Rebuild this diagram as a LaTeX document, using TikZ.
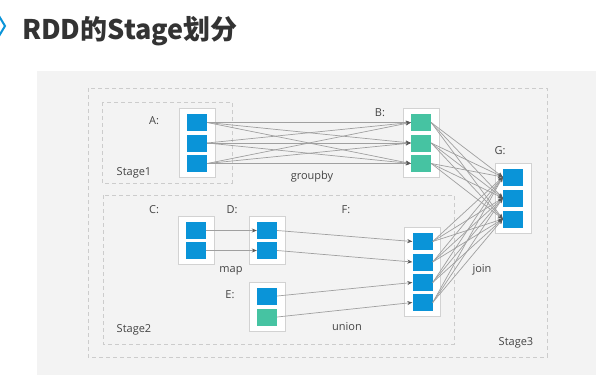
\documentclass[tikz,border=0pt]{standalone}
\usepackage{fontspec}
\setmainfont{Open Sans}
\newfontfamily\cjk{Noto Sans CJK SC}
\usetikzlibrary{arrows.meta, backgrounds, fit}
\definecolor{partblue}{HTML}{0A94D8}
\definecolor{partgreen}{HTML}{46C3A2}
\definecolor{panelgray}{HTML}{F3F3F3}
\definecolor{linegray}{HTML}{A0A0A0}
\definecolor{tipgray}{HTML}{5A5A5A}
\definecolor{textgray}{HTML}{444444}
\definecolor{titlegray}{HTML}{333333}

\begin{document}
\begin{tikzpicture}[x=1pt, y=-1pt,
    part/.style={fill=partblue, minimum width=20pt, minimum height=17pt, inner sep=0pt},
    partg/.style={part, fill=partgreen},
    rdd/.style={draw=gray!35, fill=white, line width=0.6pt, inner xsep=8pt, inner ysep=5.5pt},
    stagebox/.style={draw=gray!40, dash pattern=on 4pt off 3pt, line width=0.7pt},
    dep/.style={draw=linegray, line width=0.7pt, -{Stealth[length=5pt, width=4pt, color=tipgray]}},
    lbl/.style={text=textgray, font=\fontsize{11}{13}\selectfont, inner sep=0pt}]
    \useasboundingbox (0,0) rectangle (601,383);
    % title
    \draw[partblue, line width=2pt] (-1,16) -- (5,26) -- (-1,36);
    \node[anchor=west, inner sep=0pt, text=titlegray, font=\cjk\bfseries\fontsize{27}{31}\selectfont] (title) at (22,31) {RDD的Stage划分};
    % partitions
    \foreach \y [count=\i] in {122.5,143,163.5} {
        \node[part] (a\i) at (197,\y) {};
        \node[partg] (b\i) at (421,\y) {};
    }
    \foreach \y [count=\i] in {177,198,219}
        \node[part] (g\i) at (513,\y) {};
    \foreach \y [count=\i] in {230.5,250.5} {
        \node[part] (c\i) at (196,\y) {};
        \node[part] (d\i) at (267,\y) {};
    }
    \node[part] (e1) at (267,296) {};
    \node[partg] (e2) at (267,317) {};
    \foreach \y [count=\i] in {241.5,262,282.5,302.5}
        \node[part] (f\i) at (422.5,\y) {};
    % panel, stages and rdds
    \begin{scope}[on background layer]
        \fill[panelgray] (37,71) rectangle (596,375);
        \draw[stagebox] (88,88) rectangle (547,357);
        \draw[stagebox] (102,102) rectangle (232,183);
        \draw[stagebox] (103,195) rectangle (454,344);
        \node[rdd, fit=(a1)(a3)] (A) {};
        \node[rdd, fit=(b1)(b3)] (B) {};
        \node[rdd, fit=(g1)(g3)] (G) {};
        \node[rdd, fit=(c1)(c2)] (C) {};
        \node[rdd, fit=(d1)(d2)] (D) {};
        \node[rdd, fit=(e1)(e2)] (E) {};
        \node[rdd, fit=(f1)(f4)] (F) {};
    \end{scope}
    % dependencies
    \foreach \i in {1,2,3}
        \foreach \j in {1,2,3} {
            \draw[dep] (a\i.east) -- (b\j.west);
            \draw[dep] (b\i.east) -- (g\j.west);
        }
    \foreach \i in {1,...,4}
        \foreach \j in {1,2,3}
            \draw[dep] (f\i.east) -- (g\j.west);
    \draw[dep] (c1.east) -- (d1.west);
    \draw[dep] (c2.east) -- (d2.west);
    \draw[dep] (d1.east) -- (f1.west);
    \draw[dep] (d2.east) -- (f2.west);
    \draw[dep] (e1.east) -- (f3.west);
    \draw[dep] (e2.east) -- (f4.west);
    % labels
    \node[lbl] (la) at (154,121) {A:};
    \node[lbl] (lb) at (380,113) {B:};
    \node[lbl] (lg) at (500,151) {G:};
    \node[lbl] (lc) at (154,210) {C:};
    \node[lbl] (ld) at (232,210) {D:};
    \node[lbl] (le) at (230,295) {E:};
    \node[lbl] (lf) at (346,210) {F:};
    \node[lbl] (s1) at (134,173) {Stage1};
    \node[lbl] (s2) at (134,330) {Stage2};
    \node[lbl] (s3) at (516,343) {Stage3};
    \node[lbl] (groupby) at (312,177) {groupby};
    \node[lbl] (map) at (231,271) {map};
    \node[lbl] (union) at (347,327) {union};
    \node[lbl] (join) at (482,270) {join};
\end{tikzpicture}
\end{document}
